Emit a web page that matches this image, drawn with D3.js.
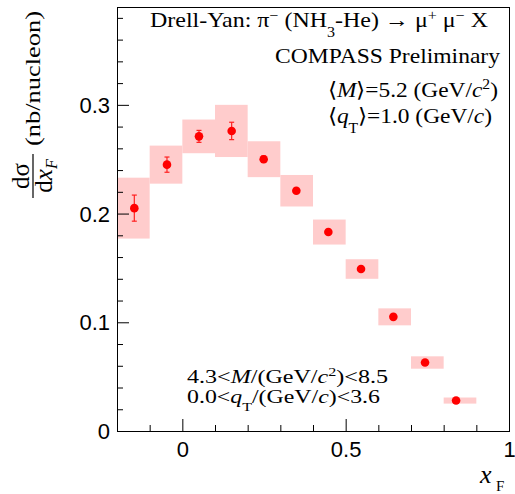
<!DOCTYPE html>
<html>
<head>
<meta charset="utf-8">
<script src="https://cdn.jsdelivr.net/npm/d3@7"></script>
<style>
  body { margin: 0; background: #fff; }
  .serif { font-family: "Liberation Serif", "Times New Roman", serif; fill: #000; }
  .tick text { font-family: "Liberation Sans", Arial, sans-serif; font-size: 22px; fill: #000; }
  .tick line { stroke: #000; }
</style>
</head>
<body>
<div id="grafiek"></div>
<script>
// waarden
var xF       = [-0.147, -0.047, 0.051, 0.151, 0.249, 0.349, 0.447, 0.547, 0.646, 0.743, 0.838];
var binLaag  = [-0.2, -0.1, 0.0, 0.1, 0.2, 0.3, 0.4, 0.5, 0.6, 0.7, 0.8];
var binHoog  = [-0.1, 0.0, 0.1, 0.2, 0.3, 0.4, 0.5, 0.6, 0.7, 0.8, 0.9];
var dsigma   = [0.205, 0.245, 0.271, 0.276, 0.250, 0.221, 0.183, 0.149, 0.105, 0.063, 0.028];
var statFout = [0.012, 0.007, 0.0055, 0.008, 0.003, 0.002, 0.002, 0.0015, 0.0015, 0.001, 0.001];
var sysFout  = [0.028, 0.0175, 0.0155, 0.024, 0.0165, 0.0145, 0.0115, 0.009, 0.0078, 0.0057, 0.0028];
var xTicks = [0, 0.5, 1];
var yTicks = [0, 0.1, 0.2, 0.3];

var breedte = 515, hoogte = 494;
var marge = {boven: 7, beneden: 63, links: 117, rechts: 6};

var data = xF.map(function(d, i) {
  return {x: d, laag: binLaag[i], hoog: binHoog[i], y: dsigma[i], stat: statFout[i], sys: sysFout[i]};
});

var x = d3.scaleLinear()
          .domain([-0.2, 1])
          .range([marge.links, breedte - marge.rechts]);
var y = d3.scaleLinear()
          .domain([0, 0.39])
          .range([hoogte - marge.beneden, marge.boven]);

var svg = d3.select("#grafiek")
            .append("svg")
            .attr("width", breedte)
            .attr("height", hoogte);

// systematische fouten als roze vlakken
svg.append("g")
   .selectAll("rect")
   .data(data)
   .enter().append("rect")
   .attr("x", function(d) { return x(d.laag); })
   .attr("width", function(d) { return x(d.hoog) - x(d.laag); })
   .attr("y", function(d) { return y(d.y + d.sys); })
   .attr("height", function(d) { return y(d.y - d.sys) - y(d.y + d.sys); })
   .attr("fill", "#ffcccc");

// statistische fouten
var fout = svg.append("g")
              .attr("stroke", "#ff2020")
              .attr("stroke-width", 1.2);

fout.selectAll(".balk")
    .data(data)
    .enter().append("line")
    .attr("class", "balk")
    .attr("x1", function(d) { return x(d.x); })
    .attr("x2", function(d) { return x(d.x); })
    .attr("y1", function(d) { return y(d.y + d.stat); })
    .attr("y2", function(d) { return y(d.y - d.stat); });

[1, -1].forEach(function(teken) {
  fout.selectAll(".kap" + teken)
      .data(data)
      .enter().append("line")
      .attr("x1", function(d) { return x(d.x) - 2.5; })
      .attr("x2", function(d) { return x(d.x) + 2.5; })
      .attr("y1", function(d) { return y(d.y + teken * d.stat); })
      .attr("y2", function(d) { return y(d.y + teken * d.stat); });
});

svg.append("g")
   .selectAll("circle")
   .data(data)
   .enter().append("circle")
   .attr("cx", function(d) { return x(d.x); })
   .attr("cy", function(d) { return y(d.y); })
   .attr("r", 4.3)
   .attr("fill", "#ff0000");

// assen met naar binnen wijzende streepjes
var yKleinTicks = d3.range(0, 0.39, 0.02).filter(function(d) { return Math.abs(d * 10 - Math.round(d * 10)) > 1e-6; });
var xKleinTicks = d3.range(-0.1, 1.0, 0.1).filter(function(d) { return Math.abs(d * 2 - Math.round(d * 2)) > 1e-6; });

svg.append("g")
   .attr("transform", "translate(" + marge.links + ",0)")
   .call(d3.axisLeft(y).tickValues(yKleinTicks).tickSize(-6).tickFormat(""))
   .call(function(g) { g.select(".domain").remove(); });

svg.append("g")
   .attr("transform", "translate(" + marge.links + ",0)")
   .call(d3.axisLeft(y).tickValues(yTicks).tickSize(-12).tickPadding(7).tickFormat(d3.format("")))
   .call(function(g) { g.select(".domain").remove(); })
   .selectAll("text").attr("dy", "0.34em");

svg.append("g")
   .attr("transform", "translate(0," + (hoogte - marge.beneden) + ")")
   .call(d3.axisBottom(x).tickValues(xKleinTicks).tickSize(-6).tickFormat(""))
   .call(function(g) { g.select(".domain").remove(); });

svg.append("g")
   .attr("transform", "translate(0," + (hoogte - marge.beneden) + ")")
   .call(d3.axisBottom(x).tickValues(xTicks).tickSize(-12).tickPadding(10).tickFormat(d3.format("")))
   .call(function(g) { g.select(".domain").remove(); });

// kader
svg.append("rect")
   .attr("x", marge.links + 0.5)
   .attr("y", marge.boven + 0.5)
   .attr("width", breedte - marge.rechts - marge.links)
   .attr("height", hoogte - marge.beneden - marge.boven)
   .attr("fill", "none")
   .attr("stroke", "#000");

// tekst met sub- en superscripts
function tekst(x0, y0, lengte, grootte, delen) {
  var t = svg.append("text")
             .attr("class", "serif")
             .attr("x", x0)
             .attr("y", y0)
             .attr("font-size", grootte)
             .attr("textLength", lengte)
             .attr("lengthAdjust", "spacingAndGlyphs");
  delen.forEach(function(d) {
    var ts = t.append("tspan").text(d[0]);
    if (d[1]) ts.attr("baseline-shift", d[1]).attr("font-size", grootte * 0.67);
    if (d[2]) ts.attr("font-style", "italic");
  });
  return t;
}

tekst(150, 27, 338, 21, [["Drell-Yan: π"], ["−", 7], [" (NH"], ["3", -10], ["-He) → μ"], ["+", 7], [" μ"], ["−", 7], [" X"]]);
tekst(275, 63, 225, 21, [["COMPASS Preliminary"]]);
tekst(328, 97, 170, 21, [["⟨"], ["M", 0, 1], ["⟩=5.2 (GeV/"], ["c", 0, 1], ["2", 8], [")"]]);
tekst(328, 123, 164, 21, [["⟨"], ["q", 0, 1], ["T", -10], ["⟩=1.0 (GeV/"], ["c", 0, 1], [")"]]);
tekst(187, 383, 201, 19, [["4.3<"], ["M", 0, 1], ["/(GeV/"], ["c", 0, 1], ["2", 7], [")<8.5"]]);
tekst(187, 403, 193, 19, [["0.0<"], ["q", 0, 1], ["T", -8], ["/(GeV/"], ["c", 0, 1], [")<3.6"]]);

// x-as titel
svg.append("text")
   .attr("class", "serif")
   .attr("x", 480).attr("y", 483)
   .attr("font-size", 26)
   .attr("font-style", "italic")
   .text("x");
svg.append("text")
   .attr("class", "serif")
   .attr("x", 496).attr("y", 491)
   .attr("font-size", 15)
   .text("F");

// y-as titel: breuk dσ/dx_F en eenheid
var yTitel = svg.append("g")
                .attr("transform", "translate(33,176) rotate(-90)");

yTitel.append("line")
      .attr("x1", -22).attr("x2", 22)
      .attr("stroke", "#000")
      .attr("stroke-width", 1.2);

yTitel.append("text")
      .attr("class", "serif")
      .attr("text-anchor", "middle")
      .attr("y", -4)
      .attr("font-size", 25)
      .text("dσ");

var noemer = yTitel.append("text")
                   .attr("class", "serif")
                   .attr("text-anchor", "middle")
                   .attr("y", 19)
                   .attr("font-size", 25);
noemer.append("tspan").text("d");
noemer.append("tspan").attr("font-style", "italic").text("x");
noemer.append("tspan").attr("font-style", "italic").attr("font-size", 16).attr("baseline-shift", -5).text("F");

yTitel.append("text")
      .attr("class", "serif")
      .attr("x", 30)
      .attr("y", 7)
      .attr("font-size", 21)
      .attr("textLength", 135)
      .attr("lengthAdjust", "spacingAndGlyphs")
      .text("(nb/nucleon)");
</script>
</body>
</html>
